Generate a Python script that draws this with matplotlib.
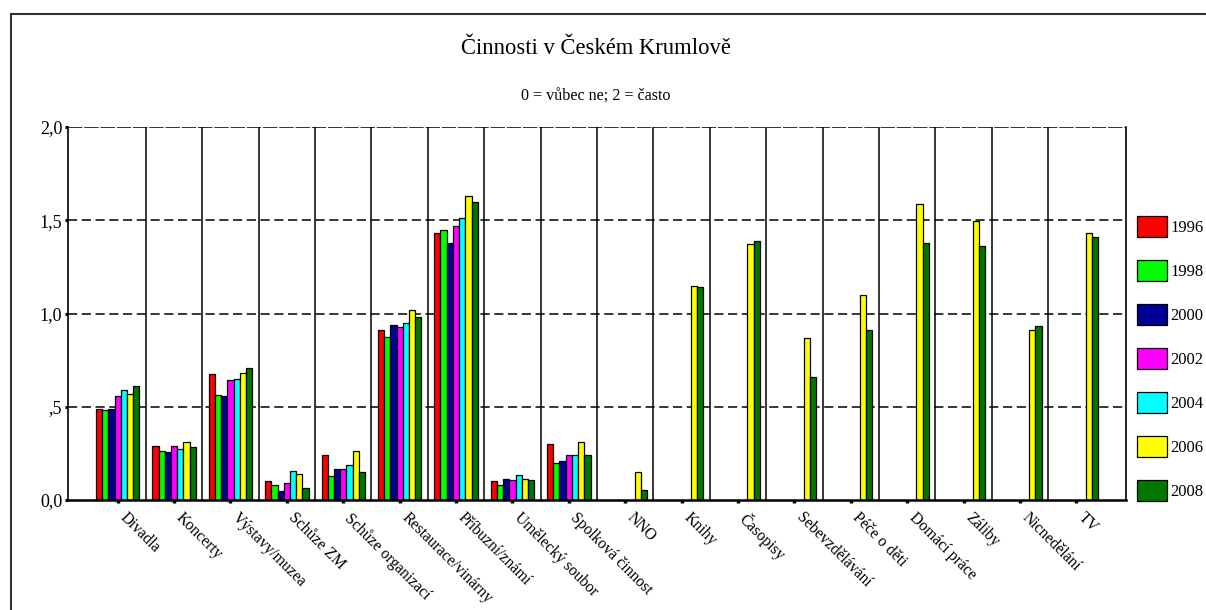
import matplotlib
matplotlib.use("Agg")
import matplotlib.pyplot as plt
import matplotlib.transforms as mtransforms
from matplotlib.lines import Line2D
import numpy as np

plt.rcParams['font.family'] = ['Liberation Serif', 'DejaVu Serif']

kategorie = ['Divadla', 'Koncerty', 'Výstavy/muzea', 'Schůze ZM', 'Schůze organizací',
             'Restaurace/vinárny', 'Příbuzní/známí', 'Umělecký soubor', 'Spolková činnost',
             'NNO', 'Knihy', 'Časopisy', 'Sebevzdělávání', 'Péče o děti', 'Domácí práce',
             'Záliby', 'Nicnedělání', 'TV']
roky = ['1996', '1998', '2000', '2002', '2004', '2006', '2008']
barvy = ['#FF0000', '#00FF00', '#000096', '#FF00FF', '#00FFFF', '#FFFF00', '#007800']

nan = np.nan
# hodnoty podle roku (nan = nesledovano)
r1996 = [0.49, 0.29, 0.675, 0.10, 0.24, 0.91, 1.43, 0.10, 0.30, nan, nan, nan, nan, nan, nan, nan, nan, nan]
r1998 = [0.48, 0.265, 0.565, 0.08, 0.13, 0.875, 1.45, 0.08, 0.20, nan, nan, nan, nan, nan, nan, nan, nan, nan]
r2000 = [0.49, 0.26, 0.56, 0.05, 0.165, 0.94, 1.38, 0.115, 0.21, nan, nan, nan, nan, nan, nan, nan, nan, nan]
r2002 = [0.56, 0.29, 0.645, 0.09, 0.165, 0.93, 1.47, 0.105, 0.24, nan, nan, nan, nan, nan, nan, nan, nan, nan]
r2004 = [0.59, 0.275, 0.65, 0.155, 0.19, 0.95, 1.51, 0.135, 0.24, nan, nan, nan, nan, nan, nan, nan, nan, nan]
r2006 = [0.57, 0.31, 0.68, 0.14, 0.265, 1.02, 1.63, 0.115, 0.31, 0.15, 1.15, 1.37, 0.87, 1.10, 1.585, 1.495, 0.91, 1.43]
r2008 = [0.61, 0.285, 0.71, 0.065, 0.15, 0.98, 1.60, 0.105, 0.24, 0.055, 1.14, 1.39, 0.66, 0.91, 1.38, 1.36, 0.935, 1.41]
serie = [r1996, r1998, r2000, r2002, r2004, r2006, r2008]

W, H = 1206, 610
fig = plt.figure(figsize=(W / 100, H / 100), dpi=100)
ax = fig.add_axes([68 / W, 1 - 500 / H, (1126 - 68) / W, (500 - 127) / H])

x = np.arange(len(kategorie))
sirka = 0.11
for j, (hodnoty, barva, rok) in enumerate(zip(serie, barvy, roky)):
    ax.bar(x + (j - 3) * sirka, hodnoty, width=sirka, color=barva, edgecolor='black',
           linewidth=0.9, label=rok, zorder=3)

# svisle oddelovace mezi kategoriemi
for i in range(len(kategorie) - 1):
    ax.axvline(i + 0.5, color='black', linewidth=1.1, zorder=2)
for yy in [0.5, 1.0, 1.5]:
    ax.axhline(yy, color='black', linewidth=1.1, linestyle=(0, (6, 3)), zorder=1)
ax.axhline(2.0, color='#222222', linewidth=1.3, linestyle=(0, (8, 1)), zorder=1)

ax.set_xlim(-0.88, 17.88)
ax.set_ylim(0, 2.0)
ax.set_yticks([0, 0.5, 1.0, 1.5, 2.0])
ax.set_yticklabels(['0,0', ',5', '1,0', '1,5', '2,0'], fontsize=13)
ax.set_xticks(x)
ax.set_xticklabels([])

# popisky kategorii sikmo pod osou
posun = mtransforms.ScaledTranslation(10 / 100, -10 / 100, fig.dpi_scale_trans)
for xi, nazev in zip(x, kategorie):
    ax.text(xi, 0, nazev, transform=ax.get_xaxis_transform() + posun, fontsize=11.3,
            rotation=-45, ha='left', va='top', rotation_mode='anchor')

ax.tick_params(axis='y', length=2.2, width=2.2, direction='out', pad=2)
ax.tick_params(axis='x', length=2.5, width=2.5, direction='out', pad=2)
ax.spines['top'].set_visible(False)
ax.spines['left'].set_linewidth(1.2)
ax.spines['right'].set_linewidth(1.2)
ax.spines['bottom'].set_linewidth(1.8)
ax.spines['bottom'].set_zorder(4)

fig.text(596 / W, 1 - 48 / H, 'Činnosti v Českém Krumlově', fontsize=16.3,
         ha='center', va='center')
fig.text(596 / W, 1 - 97 / H, '0 = vůbec ne; 2 = často', fontsize=11.6,
         ha='center', va='center')

fig.legend(loc='upper left', bbox_to_anchor=(1137 / W, 1 - 216 / H), frameon=False,
           fontsize=12, handlelength=1.8, handleheight=1.6, labelspacing=1.35,
           handletextpad=0.2, borderpad=0, borderaxespad=0)

# ramecek obrazku (vlevo a nahore)
fig.add_artist(Line2D([11 / W, 11 / W], [0, 1 - 14 / H], transform=fig.transFigure,
                      color='#333333', linewidth=1.5))
fig.add_artist(Line2D([11 / W, 1], [1 - 14 / H, 1 - 14 / H], transform=fig.transFigure,
                      color='#333333', linewidth=1.5))

fig.savefig('out.png', dpi=100, facecolor='white')
